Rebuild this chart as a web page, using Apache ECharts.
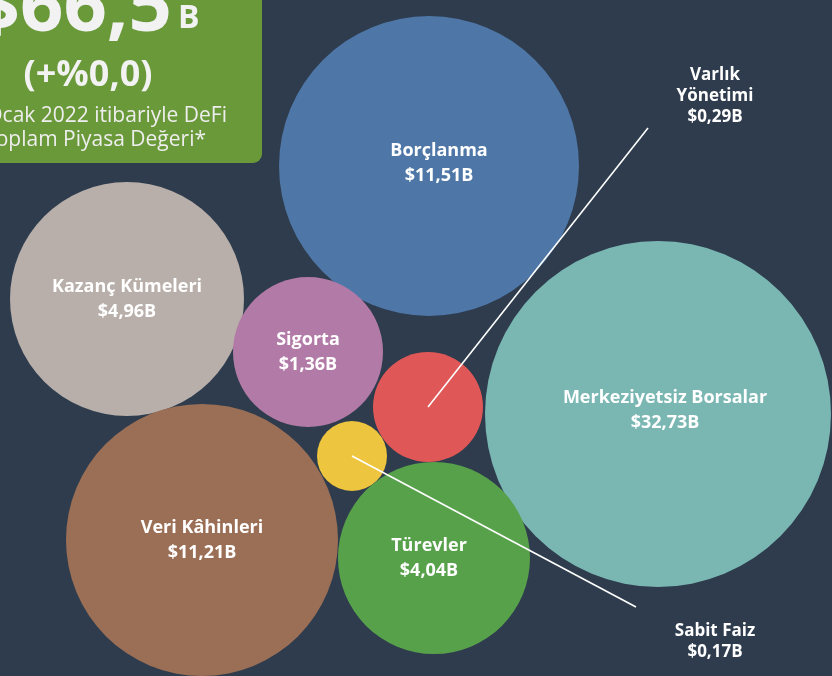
<!DOCTYPE html>
<html>
<head>
<meta charset="utf-8">
<script src="https://cdn.jsdelivr.net/npm/echarts@6/dist/echarts.min.js"></script>
<style>
  html, body { margin: 0; padding: 0; background: #2e3c4d; }
  #myChart { width: 832px; height: 676px; }
</style>
</head>
<body>
<div id="myChart"></div>
<script>
// DeFi kategorileri (milyar $)
var names = ['Borçlanma', 'Merkeziyetsiz Borsalar', 'Kazanç Kümeleri', 'Sigorta',
             'Varlık Yönetimi', 'Sabit Faiz', 'Veri Kâhinleri', 'Türevler'];
var values = [11.51, 32.73, 4.96, 1.36, 0.29, 0.17, 11.21, 4.04];
// bubble layout, in axis units
var bubbleX = [429, 658, 127, 308, 428, 352, 202, 434];
var bubbleY = [166, 414, 299, 352, 407, 456, 540, 558];
var bubbleR = [150, 173, 117, 75, 55, 35, 136, 96];
var colors = ['#4e77a7', '#7ab7b3', '#b8afaa', '#b27aa6', '#e05757', '#eec53f', '#9b6f56', '#58a14b'];
// small bubbles labelled outside, with leader lines
var calloutIdx = [4, 5];
var leaderEndX = [648, 636];
var leaderEndY = [128, 607];

window.onload = function () {
    var myChart = echarts.init(document.getElementById('myChart'));

    function money(v) {
        return '$' + v.toFixed(2).replace('.', ',') + 'B';
    }

    var bubbles = names.map(function (n, i) {
        var inside = calloutIdx.indexOf(i) == -1;
        return {
            name: n,
            value: [bubbleX[i], bubbleY[i], values[i]],
            symbolSize: bubbleR[i] * 2,
            itemStyle: { color: colors[i], opacity: 1 },
            label: { show: inside }
        };
    });
    // label of Borçlanma sits a bit right of centre in the original
    bubbles[0].label.offset = [10, -3];
    bubbles[1].label.offset = [7, -4];
    bubbles[7].label.offset = [-5, 0];

    var series = [{
        type: 'scatter',
        data: bubbles,
        z: 2,
        label: {
            position: 'inside',
            color: '#ffffff',
            fontFamily: 'Open Sans',
            fontWeight: 'bold',
            fontSize: 18,
            lineHeight: 25,
            formatter: function (p) {
                return p.name + '\n' + money(p.value[2]);
            }
        },
        emphasis: { disabled: true }
    }];

    calloutIdx.forEach(function (idx, k) {
        series.push({
            type: 'line',
            z: 3,
            silent: true,
            symbol: 'none',
            lineStyle: { color: '#ffffff', width: 1.6 },
            data: [[bubbleX[idx], bubbleY[idx]], [leaderEndX[k], leaderEndY[k]]]
        });
    });

    var option = {
        backgroundColor: '#2e3c4d',
        animation: false,
        grid: { left: 0, right: 0, top: 0, bottom: 0 },
        xAxis: { type: 'value', min: 0, max: 832, show: false },
        yAxis: { type: 'value', min: 0, max: 676, inverse: true, show: false },
        series: series,
        graphic: [
            {
                type: 'rect', z: 10,
                shape: { x: -20, y: -20, width: 282, height: 183, r: 9 },
                style: { fill: '#6a9939' }
            },
            {
                type: 'text', z: 11, x: 172, y: 9,
                style: { text: '$66,5', fill: '#f2f2f2', font: 'bold 76px "Open Sans"',
                         align: 'right', verticalAlign: 'middle' }
            },
            {
                type: 'text', z: 11, x: 178, y: 19,
                style: { text: 'B', fill: '#f2f2f2', font: 'bold 32px "Open Sans"',
                         align: 'left', verticalAlign: 'middle' }
            },
            {
                type: 'text', z: 11, x: 88, y: 76,
                style: { text: '(+%0,0)', fill: '#f2f2f2', font: 'bold 36px "Open Sans"',
                         align: 'center', verticalAlign: 'middle' }
            },
            {
                type: 'text', z: 11, x: 227, y: 116,
                style: { text: '1 Ocak 2022 itibariyle DeFi', fill: '#eeeeee', font: '21px "Open Sans"',
                         align: 'right', verticalAlign: 'middle' }
            },
            {
                type: 'text', z: 11, x: 206, y: 140,
                style: { text: 'Toplam Piyasa Değeri*', fill: '#eeeeee', font: '21px "Open Sans"',
                         align: 'right', verticalAlign: 'middle' }
            },
            {
                type: 'text', z: 11, x: 715, y: 96,
                style: { text: names[4].replace(' ', '\n') + '\n' + money(values[4]),
                         fill: '#ffffff', font: 'bold 17px "Open Sans"', lineHeight: 21,
                         align: 'center', verticalAlign: 'middle' }
            },
            {
                type: 'text', z: 11, x: 715, y: 642,
                style: { text: names[5] + '\n' + money(values[5]),
                         fill: '#ffffff', font: 'bold 17px "Open Sans"', lineHeight: 21,
                         align: 'center', verticalAlign: 'middle' }
            }
        ]
    };

    myChart.setOption(option);
};
</script>
</body>
</html>
